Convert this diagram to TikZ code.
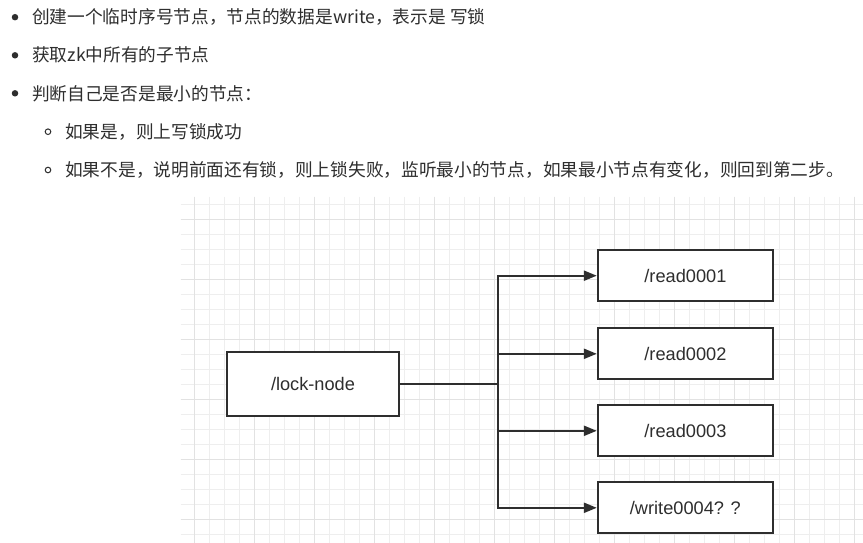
\documentclass[tikz,border=0pt]{standalone}
\usepackage{fontspec}
\newfontfamily\cjk{Noto Sans CJK SC}
\newfontfamily\lab{Liberation Sans}
\usetikzlibrary{arrows.meta}
\definecolor{ink}{HTML}{2E2E2E}
\definecolor{gridminor}{HTML}{EEEEEE}
\definecolor{gridmajor}{HTML}{E2E2E2}
\begin{document}
\begin{tikzpicture}[x=1pt,y=-1pt,
  txt/.style={anchor=base west, inner sep=0pt, text=ink, font=\cjk\fontsize{17.7}{20}\selectfont},
  box/.style={draw=ink, line width=2.2pt, fill=white, inner sep=0pt, text=ink,
              font=\lab\fontsize{18.2}{20}\selectfont},
  lockbox/.style={box, minimum width=172pt, minimum height=64pt},
  childbox/.style={box, minimum width=175pt, minimum height=51pt},
  link/.style={draw=ink, line width=2.2pt, line cap=rect},
  arr/.style={link, -{Triangle[length=13pt,width=10pt]}},
  bulletdot/.style={circle, fill=ink, inner sep=0pt, minimum size=6.5pt},
  subdot/.style={circle, draw=ink, line width=1pt, inner sep=0pt, minimum size=5.6pt}]
\useasboundingbox (0,0) rectangle (863,543);
\fill[white] (0,0) rectangle (863,543);
% grid
\begin{scope}
\clip (180.7,196.7) rectangle (863,543);
\foreach \x in {194.5,209.5,...,870} \draw[gridminor, line width=1.4pt] (\x,196.7) -- (\x,543);
\foreach \y in {204.5,219.5,...,550} \draw[gridminor, line width=1.4pt] (180.7,\y) -- (863,\y);
\foreach \x in {194.5,254.5,...,870} \draw[gridmajor, line width=1.4pt] (\x,196.7) -- (\x,543);
\foreach \y in {219.5,279.5,...,550} \draw[gridmajor, line width=1.4pt] (180.7,\y) -- (863,\y);
\end{scope}
% bullet list
\node[bulletdot] (d1) at (15,17.2) {};
\node[bulletdot] (d2) at (15,55.3) {};
\node[bulletdot] (d3) at (15,93.3) {};
\node[subdot] (s1) at (48,131.7) {};
\node[subdot] (s2) at (48,170) {};
\node[txt] (t1) at (32,23.9) {创建一个临时序号节点，节点的数据是write，表示是 写锁};
\node[txt] (t2) at (32,62) {获取zk中所有的子节点};
\node[txt] (t3) at (32,100) {判断自己是否是最小的节点：};
\node[txt] (t4) at (65,138.4) {如果是，则上写锁成功};
\node[txt] (t5) at (65,176.7) {如果不是，说明前面还有锁，则上锁失败，监听最小的节点，如果最小节点有变化，则回到第二步。};
% diagram
\node[lockbox] (lock) at (313,384) {/lock-node};
\node[childbox] (r1) at (685.4,275.7) {/read0001};
\node[childbox] (r2) at (685.4,353.8) {/read0002};
\node[childbox] (r3) at (685.4,430.8) {/read0003};
\node[childbox] (r4) at (685.4,507.8) {/write0004? ?};
\coordinate (j) at (497.7,384);
\draw[link] (lock.east) -- (j);
\foreach \r in {r1,r2,r3,r4} \draw[arr] (j) |- (\r.west);
\end{tikzpicture}
\end{document}
